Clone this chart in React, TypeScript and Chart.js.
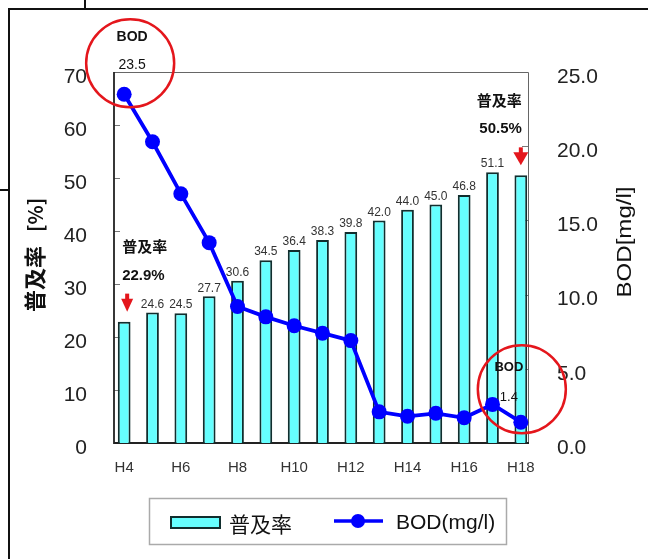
import React, { useEffect, useRef } from "react";
import { Chart, registerables } from "chart.js";

Chart.register(...registerables);

// 年度（平成）
const categories = ["H4", "H5", "H6", "H7", "H8", "H9", "H10", "H11", "H12", "H13", "H14", "H15", "H16", "H17", "H18"];
// 下水道普及率 [%]
const coverageRate = [22.9, 24.6, 24.5, 27.7, 30.6, 34.5, 36.4, 38.3, 39.8, 42.0, 44.0, 45.0, 46.8, 51.1, 50.5];
// BOD [mg/l]
const bodValues = [23.5, 20.3, 16.8, 13.5, 9.2, 8.5, 7.9, 7.4, 6.9, 2.1, 1.8, 2.0, 1.7, 2.6, 1.4];
// 軸目盛
const leftTicks = [0, 10, 20, 30, 40, 50, 60, 70];
const rightTicks = [0, 5, 10, 15, 20, 25];
// 強調する年度（配列の添字）
const coverageNotes = [0, 14];
const bodNotes = [0, 14];

const LATIN = "'Liberation Sans', Arial, sans-serif";
const CJK = "'Noto Sans CJK JP', 'Liberation Sans', sans-serif";
const BAR_FILL = "#66ffff";
const BAR_EDGE = "#112e2e";
const LINE_BLUE = "#0000ff";
const NOTE_RED = "#e4161c";

function drawArrow(ctx: CanvasRenderingContext2D, cx: number, tipY: number, w: number) {
  ctx.save();
  ctx.fillStyle = NOTE_RED;
  ctx.fillRect(cx - 2, tipY - 18, 4, 6);
  ctx.beginPath();
  ctx.moveTo(cx - w / 2, tipY - 13);
  ctx.lineTo(cx + w / 2, tipY - 13);
  ctx.lineTo(cx, tipY);
  ctx.closePath();
  ctx.fill();
  ctx.restore();
}

const decorPlugin = {
  id: "decor",
  beforeDraw(chart: any) {
    const { ctx, width, height } = chart;
    ctx.save();
    ctx.fillStyle = "#ffffff";
    ctx.fillRect(0, 0, width, height);
    // outer page rules
    ctx.fillStyle = "#111";
    ctx.fillRect(8, 8, width - 8, 2);
    ctx.fillRect(8, 8, 2, height - 8);
    ctx.fillRect(84, 0, 2, 9);
    ctx.fillRect(0, 189, 9, 2);
    ctx.restore();
  },
  beforeDatasetsDraw(chart: any) {
    const { ctx, chartArea, scales } = chart;
    const fl = chartArea.left + 4;
    const fr = chartArea.right - 7;
    const ft = chartArea.top;
    const fb = chartArea.bottom;
    ctx.save();
    // inward tick marks
    ctx.strokeStyle = "#777";
    ctx.lineWidth = 1;
    leftTicks.forEach((v) => {
      const y = Math.round(scales.y.getPixelForValue(v)) + 0.5;
      ctx.beginPath();
      ctx.moveTo(fl, y);
      ctx.lineTo(fl + 6, y);
      ctx.stroke();
    });
    rightTicks.forEach((v) => {
      const y = Math.round(scales.y2.getPixelForValue(v)) + 0.5;
      ctx.beginPath();
      ctx.moveTo(fr - 6, y);
      ctx.lineTo(fr, y);
      ctx.stroke();
    });
    // plot frame
    ctx.strokeStyle = "#666";
    ctx.lineWidth = 1;
    ctx.beginPath();
    ctx.moveTo(fl, ft + 0.5);
    ctx.lineTo(fr + 0.5, ft + 0.5);
    ctx.lineTo(fr + 0.5, fb);
    ctx.stroke();
    ctx.strokeStyle = "#222";
    ctx.lineWidth = 1.8;
    ctx.beginPath();
    ctx.moveTo(fl, ft);
    ctx.lineTo(fl, fb);
    ctx.lineTo(fr + 1, fb);
    ctx.stroke();
    ctx.restore();
  },
  afterDatasetsDraw(chart: any) {
    const { ctx } = chart;
    const bars = chart.getDatasetMeta(0).data;
    const points = chart.getDatasetMeta(1).data;
    ctx.save();

    // values above bars
    ctx.font = `12px ${LATIN}`;
    ctx.fillStyle = "#333";
    ctx.textAlign = "center";
    ctx.textBaseline = "middle";
    bars.forEach((bar: any, i: number) => {
      if (coverageNotes.includes(i)) return;
      ctx.fillText(coverageRate[i].toFixed(1), bar.x, bar.y - 8);
    });

    // coverage call-outs
    coverageNotes.forEach((i) => {
      const bar = bars[i];
      const tip = bar.y - 10;
      const first = i === 0;
      ctx.fillStyle = "#111";
      ctx.textAlign = first ? "left" : "right";
      const tx = first ? bar.x - 2 : bar.x + 1;
      ctx.font = `bold 15px ${CJK}`;
      ctx.fillText("普及率", tx, tip - 65);
      ctx.font = `bold 15px ${LATIN}`;
      ctx.fillText(coverageRate[i].toFixed(1) + "%", tx, tip - 36);
      drawArrow(ctx, first ? bar.x + 3 : bar.x, tip, first ? 12 : 15);
    });

    // BOD call-outs
    bodNotes.forEach((i) => {
      const p = points[i];
      const first = i === 0;
      const dx = first ? 8 : -12;
      ctx.fillStyle = "#111";
      ctx.textAlign = "center";
      ctx.font = first ? `bold 14px ${LATIN}` : `bold 13px ${LATIN}`;
      ctx.fillText("BOD", p.x + dx, p.y - (first ? 57 : 55));
      ctx.font = first ? `14px ${LATIN}` : `13px ${LATIN}`;
      ctx.fillText(bodValues[i].toFixed(1), p.x + dx, p.y - (first ? 29 : 25));
      ctx.strokeStyle = NOTE_RED;
      ctx.lineWidth = 2.5;
      ctx.beginPath();
      ctx.arc(p.x + (first ? 6 : 1), p.y - (first ? 31 : 33), 44, 0, Math.PI * 2);
      ctx.stroke();
    });

    // axis titles
    ctx.fillStyle = "#111";
    ctx.textBaseline = "middle";
    ctx.save();
    ctx.translate(35, 312);
    ctx.rotate(-Math.PI / 2);
    ctx.textAlign = "left";
    ctx.font = `bold 22px ${CJK}`;
    ctx.fillText("普及率", 0, 0);
    ctx.font = `bold 20px ${CJK}`;
    ctx.fillText("[%]", 80, 0);
    ctx.restore();

    ctx.save();
    ctx.translate(625, 242);
    ctx.rotate(-Math.PI / 2);
    ctx.textAlign = "center";
    ctx.font = `21px ${LATIN}`;
    const title = "BOD[mg/l]";
    const w = ctx.measureText(title).width;
    ctx.scale(111 / w, 1);
    ctx.fillText(title, 0, 0);
    ctx.restore();

    // legend
    ctx.strokeStyle = "#aaa";
    ctx.lineWidth = 1.5;
    ctx.strokeRect(149.5, 498.5, 357, 46);
    ctx.fillStyle = BAR_FILL;
    ctx.fillRect(171, 517, 49, 11);
    ctx.strokeStyle = BAR_EDGE;
    ctx.lineWidth = 2;
    ctx.strokeRect(171, 517, 49, 11);
    ctx.fillStyle = "#111";
    ctx.textAlign = "left";
    ctx.font = `21px ${CJK}`;
    ctx.fillText("普及率", 229, 524);
    ctx.strokeStyle = LINE_BLUE;
    ctx.lineWidth = 3.5;
    ctx.beginPath();
    ctx.moveTo(334, 521);
    ctx.lineTo(383, 521);
    ctx.stroke();
    ctx.fillStyle = LINE_BLUE;
    ctx.beginPath();
    ctx.arc(358, 521, 7, 0, Math.PI * 2);
    ctx.fill();
    ctx.fillStyle = "#111";
    ctx.font = `21px ${LATIN}`;
    ctx.fillText("BOD(mg/l)", 396, 523);

    ctx.restore();
  },
};

export default function App() {
  const canvasRef = useRef<HTMLCanvasElement>(null);

  useEffect(() => {
    if (!canvasRef.current) return;
    const chart = new Chart(canvasRef.current, {
      type: "bar",
      data: {
        labels: categories,
        datasets: [
          {
            type: "bar",
            label: "普及率",
            data: coverageRate,
            yAxisID: "y",
            backgroundColor: BAR_FILL,
            borderColor: BAR_EDGE,
            borderWidth: 2,
            barPercentage: 0.45,
            categoryPercentage: 1,
            order: 1,
          },
          {
            type: "line",
            label: "BOD(mg/l)",
            data: bodValues,
            yAxisID: "y2",
            borderColor: LINE_BLUE,
            backgroundColor: LINE_BLUE,
            borderWidth: 3.8,
            pointRadius: 7.5,
            pointBorderWidth: 0,
            pointBackgroundColor: LINE_BLUE,
            tension: 0,
            order: 0,
          },
        ],
      },
      options: {
        responsive: false,
        animation: false,
        layout: { padding: { top: 72, left: 0, right: 0, bottom: 0 } },
        plugins: { legend: { display: false }, tooltip: { enabled: false } },
        scales: {
          x: {
            offset: true,
            grid: { display: false, drawTicks: false },
            border: { display: false },
            afterFit: (s: any) => {
              s.height = 116;
            },
            ticks: {
              autoSkip: false,
              maxRotation: 0,
              padding: 16,
              color: "#333",
              font: { family: LATIN, size: 15 },
              callback: function (this: any, value: any, index: number) {
                return index % 2 === 0 ? this.getLabelForValue(value) : "";
              },
            },
          },
          y: {
            position: "left",
            min: 0,
            max: 70,
            afterFit: (s: any) => {
              s.width = 110;
            },
            afterBuildTicks: (s: any) => {
              s.ticks = leftTicks.map((v) => ({ value: v }));
            },
            grid: { display: false, drawTicks: false },
            border: { display: false },
            ticks: {
              padding: 23,
              labelOffset: 5,
              color: "#222",
              font: { family: LATIN, size: 21 },
            },
          },
          y2: {
            position: "right",
            min: 0,
            max: 25,
            afterFit: (s: any) => {
              s.width = 113;
            },
            afterBuildTicks: (s: any) => {
              s.ticks = rightTicks.map((v) => ({ value: v }));
            },
            grid: { display: false, drawTicks: false },
            border: { display: false },
            ticks: {
              padding: 22,
              labelOffset: 5,
              color: "#222",
              font: { family: LATIN, size: 21 },
              callback: (v: any) => Number(v).toFixed(1),
            },
          },
        },
      },
      plugins: [decorPlugin],
    });
    return () => chart.destroy();
  }, []);

  return (
    <div style={{ position: "fixed", left: 0, top: 0, width: 648, height: 559, background: "#fff" }}>
      <canvas ref={canvasRef} width={648} height={559} style={{ display: "block" }} />
    </div>
  );
}
